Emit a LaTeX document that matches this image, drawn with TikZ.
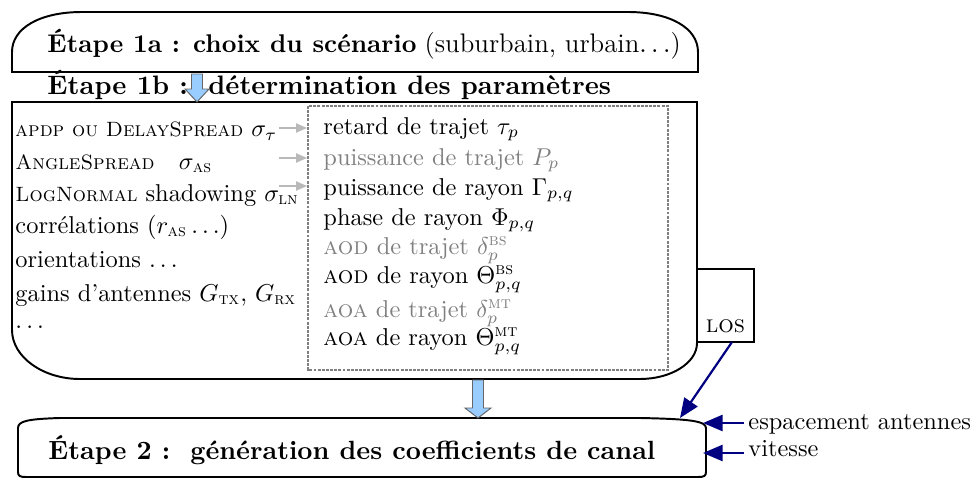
\documentclass[tikz,border=0pt]{standalone}
\usepackage{amsmath}
\usetikzlibrary{arrows.meta}
\definecolor{navyc}{RGB}{0,0,128}
\definecolor{txtgray}{RGB}{128,128,128}
\definecolor{arrgray}{RGB}{185,185,185}
\definecolor{blockblue}{RGB}{153,204,255}
\newcommand\lsc[1]{{\fontsize{8.5}{10}\selectfont\textsc{#1}}}
\begin{document}
\begin{tikzpicture}[x=0.41pt,y=-0.41pt,
  box/.style={line width=0.8pt},
  txt/.style={anchor=base west, inner sep=0pt},
  gtxt/.style={txt, text=txtgray},
  blockarrow/.style={fill=blockblue, draw=black!60, line width=0.4pt},
  grayarrow/.style={draw=arrgray, line width=0.6pt, -{Triangle[length=4.5pt,width=3.8pt]}},
  navyarrow/.style={draw=navyc, line width=1.1pt, -{Triangle[length=8pt,width=6.5pt]}},
  dotbox/.style={draw=txtgray, line width=1pt, dash pattern=on 1.2pt off 0.5pt},
]
\useasboundingbox (0,0) rectangle (977,478);

% Box 1a
\draw[box] (12,72) -- (12,52) .. controls (12,28) and (40,12) .. (82,12) -- (628,12) .. controls (670,12) and (698,28) .. (698,52) -- (698,72) -- cycle;

% Box 1b
\draw[box] (697,343) -- (697,102) -- (12,102) -- (12,330) .. controls (12,357) and (43,379) .. (80,379) -- (640,379) .. controls (671,379) and (697,363) .. (697,343);

% inner dotted box
\draw[dotbox] (308,106) rectangle (668,370);

% LOS box
\draw[line width=0.5pt] (697,269) rectangle (754,342);
\node[anchor=base, inner sep=0pt] (los) at (725.5,332) {\textsc{los}};
\coordinate (losbot) at (732,342);

% Box 2
\draw[box] (18,472) -- (18,428) .. controls (18,421) and (28,419) .. (60,418) -- (640,418) .. controls (690,419) and (706,421) .. (706,428) -- (706,472) .. controls (706,476) and (704,477) .. (698,477) -- (26,477) .. controls (20,477) and (18,476) .. (18,472);

% titles
\node[txt] (t1a) at (47,53) {{\fontsize{10.5}{12}\selectfont\textbf{Étape 1a : choix du scénario}} {\fontsize{11}{13}\selectfont(suburbain, urbain$\ldots$)}};
\node[txt] (t1b) at (47,95) {\fontsize{10.95}{13}\selectfont\textbf{Étape 1b :\ \ détermination des paramètres}};
\node[txt] (t2) at (48,459) {\fontsize{10.8}{13}\selectfont\textbf{Étape 2 :\ \ génération des coefficients de canal}};

% left list
\node[txt] (l1) at (15,137) {\lsc{apdp ou DelaySpread} $\sigma_\tau$};
\node[txt] (l2) at (15,169) {\lsc{AngleSpread}\quad $\sigma_{\textsc{as}}$};
\node[txt] (l3) at (15,201) {\lsc{LogNormal} shadowing $\sigma_{\textsc{ln}}$};
\node[txt] (l4) at (15,233) {corrélations ($r_{\textsc{as}}\ldots$)};
\node[txt] (l5) at (15,267) {orientations $\ldots$};
\node[txt] (l6) at (15,301) {gains d’antennes $G_{\textsc{tx}}$, $G_{\textsc{rx}}$};
\node[txt] (l7) at (15,328) {$\ldots$};

% right list
\node[txt] (r1) at (323,134) {retard de trajet $\tau_p$};
\node[gtxt] (r2) at (323,165) {puissance de trajet $P_p$};
\node[txt] (r3) at (323,195) {puissance de rayon $\Gamma_{p,q}$};
\node[txt] (r4) at (323,225) {phase de rayon $\Phi_{p,q}$};
\node[gtxt] (r5) at (323,254) {\textsc{aod} de trajet $\delta_p^{\textsc{bs}}$};
\node[txt] (r6) at (323,283) {\textsc{aod} de rayon $\Theta_{p,q}^{\textsc{bs}}$};
\node[gtxt] (r7) at (323,317) {\textsc{aoa} de trajet $\delta_p^{\textsc{mt}}$};
\node[txt] (r8) at (323,345) {\textsc{aoa} de rayon $\Theta_{p,q}^{\textsc{mt}}$};

% gray arrows
\coordinate (g1s) at (279,128); \coordinate (g1e) at (307,128);
\coordinate (g2s) at (279,158); \coordinate (g2e) at (307,158);
\coordinate (g3s) at (279,186); \coordinate (g3e) at (307,186);
\draw[grayarrow] (g1s) -- (g1e);
\draw[grayarrow] (g2s) -- (g2e);
\draw[grayarrow] (g3s) -- (g3e);

% block arrows
\draw[blockarrow] (191.5,74) -- (202.5,74) -- (202.5,89) -- (209,89) -- (197,102) -- (185,89) -- (191.5,89) -- cycle;
\draw[blockarrow] (472.5,380) -- (483.5,380) -- (483.5,408) -- (491,408) -- (478,418) -- (465,408) -- (472.5,408) -- cycle;

% right side
\node[txt] (esp) at (748,429) {espacement antennes};
\node[txt] (vit) at (748,456) {vitesse};
\coordinate (esps) at (744,423); \coordinate (espe) at (703,423);
\coordinate (vits) at (744,453); \coordinate (vite) at (703,453);
\coordinate (s2top) at (680,418);
\draw[navyarrow] (esps) -- (espe);
\draw[navyarrow] (vits) -- (vite);
\draw[navyarrow, line width=0.9pt] (losbot) -- (s2top);
\end{tikzpicture}
\end{document}
